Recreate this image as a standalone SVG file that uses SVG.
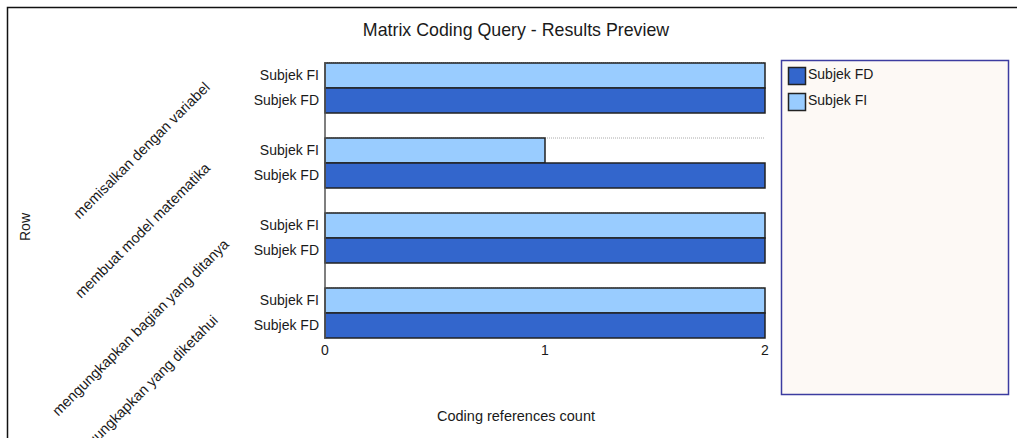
<svg xmlns="http://www.w3.org/2000/svg" width="1017" height="438" viewBox="0 0 1017 438">
<style>
  text { font-family: "Liberation Sans", Arial, sans-serif; fill: #1a1a1a; }
  .lbl { font-size: 14px; text-anchor: end; }
  .cat { font-size: 14.6px; text-anchor: middle; }
  .tick { font-size: 14px; text-anchor: middle; }
  .fi { fill: #99ccff; stroke: #222; stroke-width: 1.5; }
  .fd { fill: #3366cc; stroke: #222; stroke-width: 1.5; }
  .grid { stroke: #aaa; stroke-width: 1; stroke-dasharray: 1 1; }
</style>
<rect x="0" y="0" width="1017" height="438" fill="#ffffff"/>
<path d="M7.5 438 V7.5 H1017" fill="none" stroke="#111" stroke-width="1.5"/>
<text x="516" y="36" font-size="17.8" text-anchor="middle">Matrix Coding Query - Results Preview</text>
<text transform="translate(30 227) rotate(-90)" font-size="14" text-anchor="middle">Row</text>

<g id="grid">
  <line class="grid" x1="325" y1="62.5" x2="765" y2="62.5"/>
  <line class="grid" x1="325" y1="138" x2="765" y2="138"/>
  <line class="grid" x1="325" y1="213" x2="765" y2="213"/>
  <line class="grid" x1="325" y1="288" x2="765" y2="288"/>
</g>

<g id="group1">
  <rect class="fi" x="325" y="63" width="440" height="25"/>
  <rect class="fd" x="325" y="88" width="440" height="25"/>
  <text class="lbl" x="319" y="80">Subjek FI</text>
  <text class="lbl" x="319" y="105">Subjek FD</text>
  <text class="cat" transform="translate(145 154) rotate(-45)">memisalkan dengan variabel</text>
</g>
<g id="group2">
  <rect class="fi" x="325" y="138" width="220" height="25"/>
  <rect class="fd" x="325" y="163" width="440" height="25"/>
  <text class="lbl" x="319" y="155">Subjek FI</text>
  <text class="lbl" x="319" y="180">Subjek FD</text>
  <text class="cat" transform="translate(146 234) rotate(-45)">membuat model matematika</text>
</g>
<g id="group3">
  <rect class="fi" x="325" y="213" width="440" height="25"/>
  <rect class="fd" x="325" y="238" width="440" height="25"/>
  <text class="lbl" x="319" y="230">Subjek FI</text>
  <text class="lbl" x="319" y="255">Subjek FD</text>
  <text class="cat" transform="translate(144 331) rotate(-45)">mengungkapkan bagian yang ditanya</text>
</g>
<g id="group4">
  <rect class="fi" x="325" y="288" width="440" height="25"/>
  <rect class="fd" x="325" y="313" width="440" height="25"/>
  <text class="lbl" x="319" y="305">Subjek FI</text>
  <text class="lbl" x="319" y="330">Subjek FD</text>
  <text class="cat" transform="translate(146 394) rotate(-45)">mengungkapkan yang diketahui</text>
</g>

<g id="axis">
  <line x1="325" y1="62" x2="325" y2="339" stroke="#555" stroke-width="1.5"/>
  <text class="tick" x="325" y="355">0</text>
  <text class="tick" x="545" y="355">1</text>
  <text class="tick" x="765" y="355">2</text>
  <text x="516" y="421" font-size="14.5" text-anchor="middle">Coding references count</text>
</g>

<g id="legend">
  <rect x="781.5" y="60.5" width="227" height="334" fill="#fdf9f5" stroke="#3c3ca0" stroke-width="1.5"/>
  <rect class="fd" x="788.5" y="67.5" width="17" height="17"/>
  <text x="808" y="79" font-size="14">Subjek FD</text>
  <rect class="fi" x="788.5" y="93.5" width="17" height="17"/>
  <text x="808" y="105" font-size="14">Subjek FI</text>
</g>
</svg>
